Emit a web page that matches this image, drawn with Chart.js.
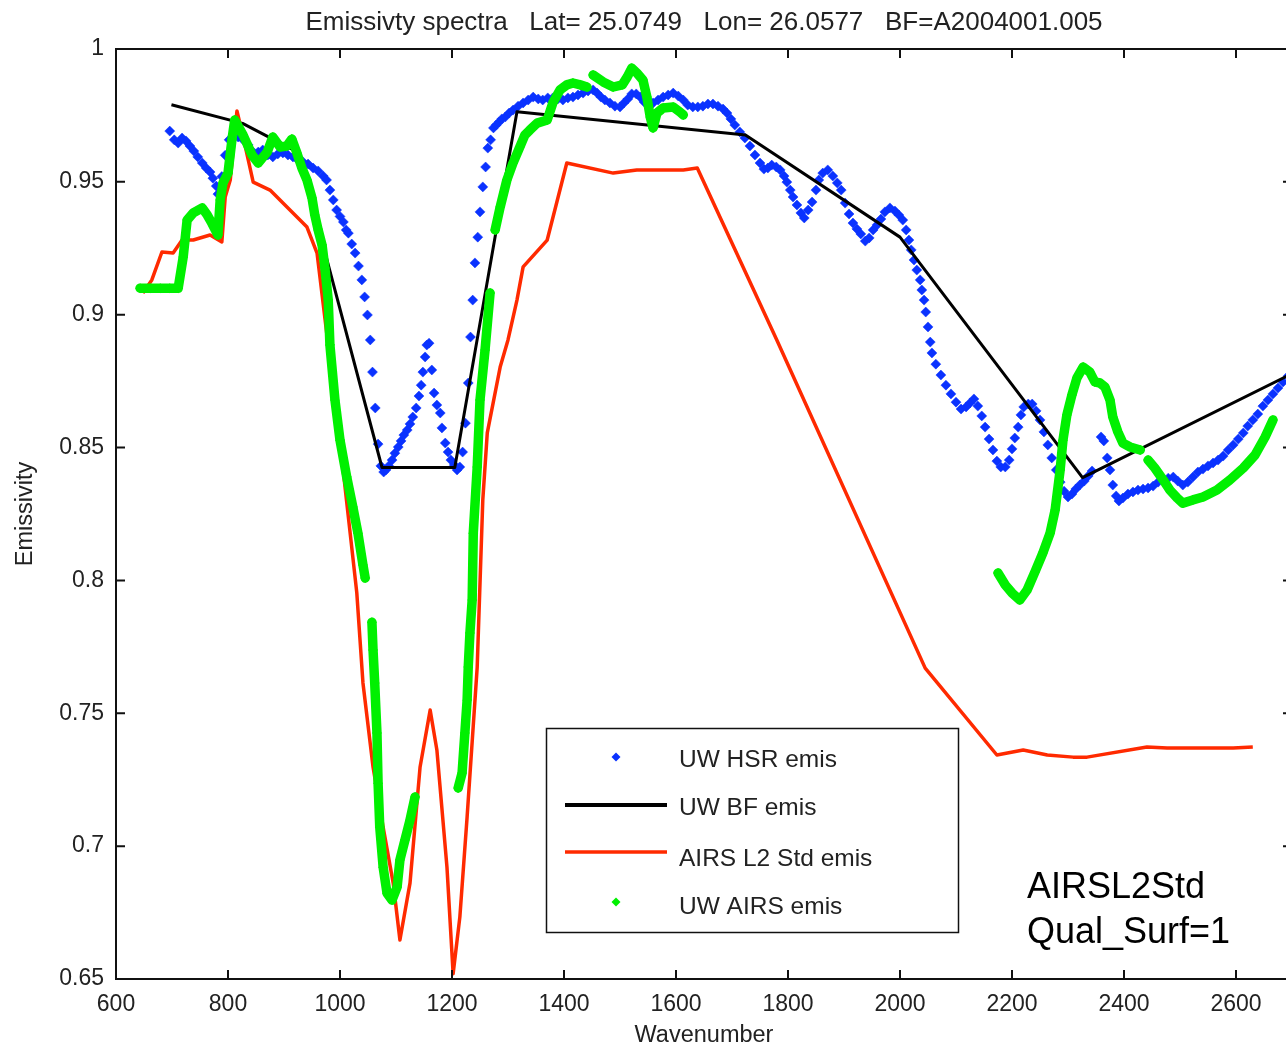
<!DOCTYPE html>
<html><head><meta charset="utf-8">
<script src="https://cdn.jsdelivr.net/npm/chart.js@4.4.0/dist/chart.umd.min.js"></script>
<style>
html,body{margin:0;padding:0;overflow:hidden;background:#fff;width:1286px;height:1050px}
#wrap{position:absolute;left:0;top:0;width:1300px;height:1050px}
</style>
</head><body>
<div id="wrap"><canvas id="c" width="1300" height="1050"></canvas></div>
<script>
// ---------------- DATA ----------------
const titleText = 'Emissivty spectra   Lat= 25.0749   Lon= 26.0577   BF=A2004001.005';
const xAxisTitle = 'Wavenumber';
const yAxisTitle = 'Emissivity';
const legendLabels = ['UW HSR emis', 'UW BF emis', 'AIRS L2 Std emis', 'UW AIRS emis'];
const noteLines = ['AIRSL2Std', 'Qual_Surf=1'];

const xTickValues = [600, 800, 1000, 1200, 1400, 1600, 1800, 2000, 2200, 2400, 2600];
const xTickLabels = ['600', '800', '1000', '1200', '1400', '1600', '1800', '2000', '2200', '2400', '2600'];
const yTickValues = [0.65, 0.7, 0.75, 0.8, 0.85, 0.9, 0.95, 1];
const yTickLabels = ['0.65', '0.7', '0.75', '0.8', '0.85', '0.9', '0.95', '1'];

// UW HSR emis (markers)
const hsrWavenumber = [696,704,711,718,725,732,739,746,754,761,768,773,779,782,789,795,802,809,818,827,836,845,854,862,871,880,889,898,907,916,925,934,943,952,961,970,976,982,988,994,1000,1006,1011,1015,1021,1027,1033,1039,1044,1049,1054,1058,1063,1068,1073,1078,1082,1087,1093,1098,1104,1109,1114,1120,1125,1130,1136,1141,1145,1148,1152,1155,1159,1164,1168,1173,1179,1182,1188,1193,1198,1204,1209,1214,1219,1224,1229,1233,1237,1241,1246,1250,1255,1260,1264,1269,1274,1279,1284,1289,1295,1302,1309,1318,1327,1336,1345,1354,1362,1371,1380,1389,1398,1407,1416,1425,1434,1443,1452,1459,1466,1473,1482,1491,1500,1507,1514,1521,1529,1536,1543,1550,1559,1568,1577,1586,1595,1604,1613,1621,1630,1639,1648,1657,1666,1675,1684,1691,1698,1705,1714,1723,1732,1741,1750,1757,1764,1771,1779,1786,1793,1798,1804,1809,1816,1823,1829,1836,1843,1850,1855,1862,1871,1880,1888,1895,1902,1909,1916,1923,1930,1938,1945,1952,1959,1966,1973,1982,1991,1998,2005,2011,2016,2020,2025,2030,2036,2039,2043,2046,2050,2054,2057,2064,2073,2082,2091,2100,2109,2118,2125,2132,2139,2146,2152,2159,2166,2173,2180,2188,2195,2200,2205,2211,2216,2221,2229,2236,2243,2250,2257,2264,2271,2279,2286,2293,2300,2307,2314,2321,2329,2336,2343,2359,2364,2370,2375,2380,2386,2391,2398,2407,2416,2425,2434,2443,2452,2461,2470,2479,2488,2496,2505,2514,2523,2532,2541,2550,2559,2568,2577,2586,2595,2604,2613,2621,2630,2639,2648,2657,2666,2675,2684,2693];
const hsrEmis = [0.9691,0.9658,0.9646,0.9665,0.9654,0.9635,0.9616,0.9594,0.9571,0.9552,0.9537,0.9514,0.9484,0.9454,0.9520,0.9600,0.9658,0.9673,0.9669,0.9658,0.9639,0.9612,0.9612,0.9620,0.9601,0.9594,0.9605,0.9609,0.9601,0.9594,0.9582,0.9575,0.9567,0.9552,0.9541,0.9522,0.9507,0.9469,0.9432,0.9394,0.9370,0.9349,0.9319,0.9307,0.9266,0.9232,0.9183,0.9131,0.9067,0.8999,0.8905,0.8784,0.8649,0.8513,0.8431,0.8408,0.8416,0.8431,0.8453,0.8479,0.8502,0.8525,0.8547,0.8566,0.8589,0.8615,0.8649,0.8694,0.8735,0.8784,0.8841,0.8886,0.8893,0.8792,0.8705,0.8660,0.8630,0.8574,0.8517,0.8483,0.8453,0.8434,0.8416,0.8427,0.8483,0.8592,0.8743,0.8916,0.9055,0.9195,0.9292,0.9387,0.9481,0.9556,0.9627,0.9658,0.9703,0.9714,0.9725,0.9737,0.9744,0.9759,0.9770,0.9785,0.9797,0.9808,0.9819,0.9812,0.9808,0.9816,0.9816,0.9812,0.9808,0.9816,0.9819,0.9827,0.9834,0.9842,0.9846,0.9834,0.9819,0.9808,0.9797,0.9785,0.9782,0.9797,0.9812,0.9831,0.9831,0.9819,0.9801,0.9789,0.9797,0.9808,0.9819,0.9827,0.9834,0.9823,0.9808,0.9789,0.9782,0.9782,0.9785,0.9793,0.9793,0.9785,0.9774,0.9759,0.9737,0.9714,0.9688,0.9665,0.9635,0.9601,0.9571,0.9548,0.9552,0.9563,0.9556,0.9545,0.9522,0.9499,0.9469,0.9443,0.9413,0.9383,0.9364,0.9394,0.9424,0.9469,0.9507,0.9533,0.9545,0.9522,0.9496,0.9469,0.9420,0.9379,0.9345,0.9323,0.9304,0.9277,0.9289,0.9319,0.9338,0.9360,0.9387,0.9402,0.9390,0.9375,0.9356,0.9319,0.9281,0.9244,0.9206,0.9168,0.9131,0.9093,0.9055,0.9010,0.8954,0.8897,0.8856,0.8814,0.8773,0.8735,0.8702,0.8671,0.8645,0.8653,0.8668,0.8683,0.8656,0.8619,0.8577,0.8532,0.8491,0.8449,0.8427,0.8427,0.8453,0.8495,0.8536,0.8577,0.8623,0.8653,0.8664,0.8664,0.8638,0.8604,0.8559,0.8510,0.8461,0.8416,0.8370,0.8336,0.8314,0.8325,0.8344,0.8359,0.8374,0.8393,0.8412,0.8540,0.8525,0.8461,0.8416,0.8359,0.8318,0.8299,0.8310,0.8325,0.8333,0.8340,0.8344,0.8348,0.8355,0.8370,0.8382,0.8385,0.8389,0.8374,0.8359,0.8370,0.8389,0.8408,0.8419,0.8431,0.8442,0.8453,0.8468,0.8491,0.8510,0.8532,0.8555,0.8581,0.8604,0.8626,0.8656,0.8679,0.8702,0.8724,0.8747,0.8769];

// UW BF emis (hinge points)
const bfWavenumber = [699, 826, 926, 1075, 1205, 1316, 1724, 2000, 2326, 2778];
const bfEmis = [0.979, 0.972, 0.961, 0.8425, 0.8425, 0.9764, 0.9676, 0.9292, 0.8387, 0.886];

// AIRS L2 Std emis
const l2Wavenumber = [648,664,682,702,718,738,768,789,795,804,816,827,845,875,941,959,995,1005,1030,1041,1059,1077,1095,1107,1125,1143,1161,1173,1191,1202,1214,1227,1245,1255,1263,1286,1300,1316,1327,1370,1405,1488,1530,1613,1638,1780,2045,2173,2220,2263,2309,2334,2441,2477,2595,2630];
const l2Emis = [0.9082,0.9131,0.9236,0.9232,0.9281,0.9281,0.9300,0.9274,0.9443,0.9507,0.9767,0.9669,0.9499,0.9469,0.9330,0.9232,0.8604,0.8427,0.7953,0.7614,0.7298,0.7072,0.6861,0.6647,0.6861,0.7298,0.7512,0.7362,0.6921,0.6520,0.6733,0.7110,0.7674,0.8303,0.8555,0.8803,0.8905,0.9055,0.9180,0.9281,0.9571,0.9533,0.9545,0.9545,0.9552,0.8905,0.7670,0.7343,0.7362,0.7343,0.7335,0.7335,0.7373,0.7369,0.7369,0.7373];

// UW AIRS emis (null = channel gap)
const airsWavenumber = [643,661,679,696,711,720,727,738,754,763,771,782,786,791,800,807,812,827,843,854,870,880,893,905,914,923,932,941,950,955,961,968,973,979,982,991,1000,1012,1023,1032,1041,1045,
  1051,
  1057,1059,1062,1066,1068,1071,1077,1084,1093,1102,1107,1116,1125,1134,
  1170,
  1211,1218,1223,1227,1229,1232,1236,1238,1245,1250,1259,1268,
  1272,
  1277,1286,1298,1309,1321,1330,1339,1352,1370,1380,1393,1405,1416,1429,1441,
  1446,
  1452,1470,1488,1504,1513,1521,1530,1541,1548,1554,1559,1566,1577,1595,1607,1613,
  1900,
  2175,2188,2200,2214,2227,2241,2255,2268,2277,2286,2291,2298,2307,2316,2327,2339,2348,2357,2366,2375,2380,2389,2398,2411,2429,
  2436,
  2443,2455,2470,2482,2495,2505,2523,2541,2566,2589,2613,2634,2652,2666];
const airsEmis = [0.9100,0.9100,0.9100,0.9100,0.9100,0.9217,0.9356,0.9383,0.9402,0.9375,0.9345,0.9300,0.9432,0.9496,0.9533,0.9658,0.9733,0.9676,0.9601,0.9571,0.9612,0.9669,0.9631,0.9635,0.9661,0.9609,0.9552,0.9507,0.9439,0.9375,0.9319,0.9262,0.9176,0.9055,0.8886,0.8679,0.8528,0.8389,0.8276,0.8178,0.8058,0.8009,
  null,
  0.7843,0.7738,0.7614,0.7426,0.7237,0.7072,0.6921,0.6823,0.6797,0.6846,0.6948,0.7023,0.7098,0.7185,
  null,
  0.7219,0.7275,0.7426,0.7550,0.7674,0.7802,0.7926,0.8178,0.8427,0.8679,0.8867,0.9082,
  null,
  0.9319,0.9405,0.9507,0.9571,0.9631,0.9676,0.9695,0.9721,0.9733,0.9797,0.9846,0.9865,0.9872,0.9865,0.9857,
  null,
  0.9902,0.9876,0.9857,0.9865,0.9895,0.9928,0.9910,0.9883,0.9819,0.9744,0.9703,0.9759,0.9778,0.9782,0.9763,0.9752,
  null,
  0.8028,0.7983,0.7953,0.7926,0.7964,0.8032,0.8103,0.8178,0.8265,0.8416,0.8528,0.8623,0.8698,0.8762,0.8803,0.8784,0.8747,0.8743,0.8728,0.8679,0.8615,0.8559,0.8517,0.8502,0.8491,
  null,
  0.8453,0.8423,0.8378,0.8340,0.8310,0.8291,0.8303,0.8314,0.8340,0.8378,0.8423,0.8472,0.8540,0.8604];

// ---------------- STYLE ----------------
const FONT = "'Liberation Sans', Arial, Helvetica, sans-serif";
const BLUE = '#0a32ff', GREEN = '#00f000', RED = '#ff2a00', BLACK = '#000000';
const pairs = (xs, ys) => xs.map((x, i) => ({ x: x, y: ys[i] }));

const framePlugin = {
  id: 'framePlugin',
  afterDraw(chart) {
    const { ctx, chartArea: a, scales } = chart;
    const xs = scales.x, ys = scales.y;
    ctx.save();
    ctx.strokeStyle = '#111';
    ctx.lineWidth = 2;
    ctx.strokeRect(a.left, a.top, a.right - a.left, a.bottom - a.top);
    const L = 9;
    ctx.beginPath();
    xTickValues.forEach(v => {
      const p = xs.getPixelForValue(v);
      ctx.moveTo(p, a.bottom); ctx.lineTo(p, a.bottom - L);
      ctx.moveTo(p, a.top); ctx.lineTo(p, a.top + L);
    });
    yTickValues.forEach(v => {
      const p = ys.getPixelForValue(v);
      ctx.moveTo(a.left, p); ctx.lineTo(a.left + L, p);
      ctx.moveTo(a.right, p); ctx.lineTo(a.right - L, p);
    });
    ctx.stroke();

    // legend box
    const bx = 546, by = 728, bw = 412, bh = 204;
    ctx.fillStyle = '#fff';
    ctx.fillRect(bx, by, bw, bh);
    ctx.lineWidth = 1.5;
    ctx.strokeStyle = '#111';
    ctx.strokeRect(bx + 0.5, by + 0.5, bw, bh);
    const rows = [767, 815, 866, 914];
    const markY = [757, 805, 852, 902];
    const diamond = (cx, cy, r, col) => {
      ctx.beginPath();
      ctx.moveTo(cx - r, cy); ctx.lineTo(cx, cy - r); ctx.lineTo(cx + r, cy); ctx.lineTo(cx, cy + r);
      ctx.closePath(); ctx.fillStyle = col; ctx.fill();
    };
    diamond(616, markY[0], 4.5, BLUE);
    ctx.lineWidth = 4; ctx.strokeStyle = BLACK;
    ctx.beginPath(); ctx.moveTo(565, markY[1]); ctx.lineTo(667, markY[1]); ctx.stroke();
    ctx.lineWidth = 3.5; ctx.strokeStyle = RED;
    ctx.beginPath(); ctx.moveTo(565, markY[2]); ctx.lineTo(667, markY[2]); ctx.stroke();
    diamond(616, markY[3], 4.5, GREEN);
    ctx.fillStyle = '#222';
    ctx.font = '24.5px ' + FONT;
    ctx.textAlign = 'left';
    ctx.textBaseline = 'alphabetic';
    legendLabels.forEach((t, i) => ctx.fillText(t, 679, rows[i]));

    // note
    ctx.fillStyle = '#000';
    ctx.font = '36px ' + FONT;
    ctx.fillText(noteLines[0], 1027, 898);
    ctx.fillText(noteLines[1], 1027, 943);
    ctx.restore();
  }
};

new Chart(document.getElementById('c'), {
  type: 'scatter',
  data: {
    datasets: [
      {
        label: legendLabels[3], data: pairs(airsWavenumber, airsEmis), order: 0,
        showLine: true, spanGaps: false, borderColor: GREEN, borderWidth: 9.5,
        pointRadius: 5, pointStyle: 'rectRot', pointBackgroundColor: GREEN, pointBorderWidth: 0,
        borderJoinStyle: 'round', borderCapStyle: 'round'
      },
      {
        label: legendLabels[2], data: pairs(l2Wavenumber, l2Emis), order: 1,
        showLine: true, borderColor: RED, borderWidth: 3.5, pointRadius: 0, borderJoinStyle: 'round'
      },
      {
        label: legendLabels[1], data: pairs(bfWavenumber, bfEmis), order: 2,
        showLine: true, borderColor: BLACK, borderWidth: 3, pointRadius: 0, borderJoinStyle: 'round'
      },
      {
        label: legendLabels[0], data: pairs(hsrWavenumber, hsrEmis), order: 3,
        showLine: false, pointStyle: 'rectRot', pointRadius: 5,
        pointBackgroundColor: BLUE, pointBorderColor: BLUE, pointBorderWidth: 0.5
      }
    ]
  },
  options: {
    responsive: false,
    animation: false,
    devicePixelRatio: 1,
    layout: { padding: { left: 0, right: 8, top: 0, bottom: 0 } },
    plugins: {
      legend: { display: false },
      tooltip: { enabled: false },
      title: {
        display: true, text: titleText, fullSize: false, color: '#222',
        font: { family: FONT, size: 26, weight: 'normal' },
        padding: { top: 7, bottom: 10.8 }
      }
    },
    scales: {
      x: {
        type: 'linear', min: 600, max: 2700,
        afterBuildTicks: s => { s.ticks = xTickValues.map(v => ({ value: v })); },
        afterFit: s => { s.height = 71; },
        grid: { display: false, drawTicks: false },
        border: { display: false },
        ticks: {
          autoSkip: false, maxRotation: 0, padding: 12, color: '#222',
          font: { family: FONT, size: 23 },
          callback: v => { const i = xTickValues.indexOf(v); return i >= 0 ? xTickLabels[i] : ''; }
        },
        title: { display: true, text: xAxisTitle, color: '#222', font: { family: FONT, size: 23.5 }, padding: { top: 0, bottom: 0 } }
      },
      y: {
        type: 'linear', min: 0.65, max: 1,
        afterBuildTicks: s => { s.ticks = yTickValues.map(v => ({ value: v })); },
        afterFit: s => { s.width = 116; },
        grid: { display: false, drawTicks: false },
        border: { display: false },
        ticks: {
          autoSkip: false, padding: 12, color: '#222',
          font: { family: FONT, size: 23 },
          callback: v => { const i = yTickValues.indexOf(v); return i >= 0 ? yTickLabels[i] : ''; }
        },
        title: { display: true, text: yAxisTitle, color: '#222', font: { family: FONT, size: 23.5 }, padding: { top: 11, bottom: 11 } }
      }
    }
  },
  plugins: [framePlugin]
});
</script>
</body></html>
